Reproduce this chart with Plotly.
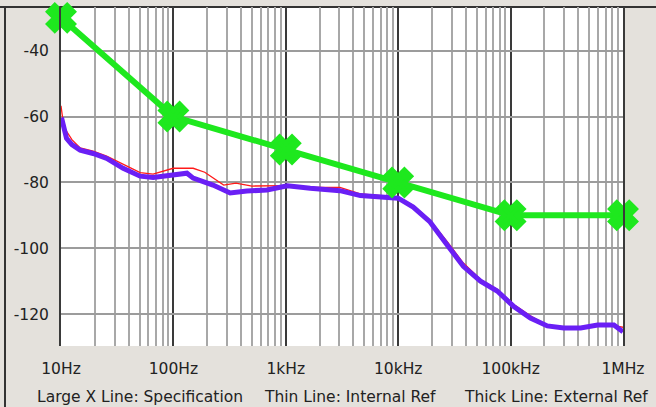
import plotly.graph_objects as go

# ---- data ----
spec_freq = [10, 100, 1000, 10000, 100000, 1000000]
spec_db = [-30, -60, -70, -80, -90, -90]

int_freq = [10, 10.3, 11, 12.5, 14.8, 19.3, 25.5, 35.7, 50.6, 66, 99.5, 150, 190, 280, 360, 500, 680,
            1030, 1650, 3030, 4600, 6900, 10000, 13600, 19200, 27300, 38000, 54000, 76000, 106000,
            150000, 212000, 297000, 420000, 595000, 830000, 1000000]
int_db = [-56.7, -60, -64, -67, -69.5, -70.5, -72, -74.5, -77, -77.5, -75.7, -75.7, -76.9, -80.8, -80.2,
          -81.1, -81.1, -81.0, -81.5, -81.5, -83.5, -84, -84.5, -87, -91.5, -98, -104.5, -109.5, -112.5,
          -117, -120.5, -123.5, -124.5, -124.5, -123.5, -123.5, -124]

ext_freq = [10.1, 10.4, 11.2, 12.5, 14.8, 19.3, 25.5, 35.7, 50.6, 66, 99.5, 132, 150, 225, 320, 450, 680,
            1030, 1650, 3030, 4600, 6900, 10000, 13600, 19200, 27300, 38000, 54000, 76000, 106000,
            150000, 212000, 297000, 420000, 595000, 830000, 1000000]
ext_db = [-60.3, -62, -66.6, -68.5, -70.2, -71.2, -72.7, -75.7, -78.1, -78.5, -77.8, -77.2, -78.7, -80.8,
          -83.2, -82.6, -82.3, -81.0, -81.8, -82.5, -84, -84.5, -84.8, -87.5, -92, -99, -105.5, -110, -113,
          -117.6, -121.2, -123.6, -124.2, -124.2, -123.3, -123.3, -125.4]

x_tickvals = [10, 100, 1000, 10000, 100000, 1000000]
x_ticktext = ["10Hz", "100Hz", "1kHz", "10kHz", "100kHz", "1MHz"]
y_tickvals = [-40, -60, -80, -100, -120]
y_ticktext = ["-40", "-60", "-80", "-100", "-120"]
minor_vals = [m * d for d in [10, 100, 1000, 10000, 100000] for m in range(2, 10)]

legend_texts = ["Large X Line: Specification", "Thin Line: Internal Ref", "Thick Line: External Ref"]

# ---- figure ----
fig = go.Figure()
fig.add_trace(go.Scatter(x=int_freq, y=int_db, mode="lines",
                         line=dict(color="#ff1a1a", width=1.3)))
fig.add_trace(go.Scatter(x=ext_freq, y=ext_db, mode="lines",
                         line=dict(color="#6a1ff5", width=5)))
fig.add_trace(go.Scatter(x=spec_freq, y=spec_db, mode="lines+markers", cliponaxis=False,
                         line=dict(color="#1ee81e", width=6),
                         marker=dict(symbol="x", size=22, color="#1ee81e",
                                     line=dict(width=5, color="#1ee81e"))))

W, H = 656, 407
L, R, T, B = 61, 33, 7, 61
pw, ph = W - L - R, H - T - B

def px(x):
    return (x - L) / pw

def py(y):
    return (H - B - y) / ph

shapes = [
    dict(type="line", xref="paper", yref="paper", x0=px(0), x1=px(W), y0=py(7), y1=py(7),
         line=dict(color="#333333", width=2), layer="below"),
    dict(type="line", xref="paper", yref="paper", x0=px(5), x1=px(5), y0=py(7), y1=py(H),
         line=dict(color="#333333", width=2), layer="below"),
]

font_family = "DejaVu Sans, Verdana, sans-serif"
annotations = []
for txt, xl in zip(legend_texts, [35, 262, 462]):
    annotations.append(dict(text=txt, xref="paper", yref="paper", x=px(xl), y=py(397),
                            xanchor="left", yanchor="middle", showarrow=False,
                            font=dict(family=font_family, size=15.5, color="#222222")))

fig.update_layout(
    width=W, height=H,
    margin=dict(l=L, r=R, t=T, b=B),
    paper_bgcolor="#e4e1dc",
    plot_bgcolor="#ffffff",
    showlegend=False,
    shapes=shapes,
    annotations=annotations,
    font=dict(family=font_family, size=15.5, color="#222222"),
)
fig.update_xaxes(type="log", range=[1, 6], tickvals=x_tickvals, ticktext=x_ticktext,
                 showgrid=True, gridcolor="#3a3a3a", gridwidth=2,
                 minor=dict(tickvals=minor_vals, showgrid=True, gridcolor="#a8a8a8", gridwidth=1.5),
                 showline=False, zeroline=False, ticks="", ticklabelstandoff=11)
fig.update_yaxes(range=[-129.7, -26.7], tickvals=y_tickvals, ticktext=y_ticktext,
                 showgrid=True, gridcolor="#9c9c9c", gridwidth=1.5,
                 showline=True, linecolor="#3a3a3a", linewidth=2, mirror=True,
                 zeroline=False, ticks="", ticklabelstandoff=7)

fig.write_html("out.html", config={"displayModeBar": False},
               post_script="document.body.style.margin='0px';document.body.style.overflow='hidden';")
